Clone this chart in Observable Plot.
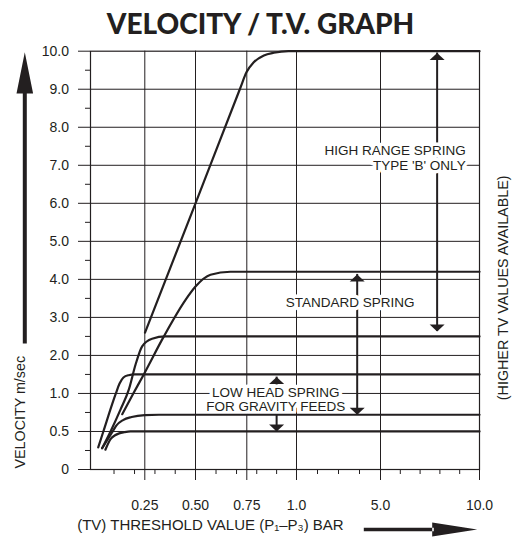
<!DOCTYPE html>
<html>
<head>
<meta charset="utf-8">
<script src="https://cdn.jsdelivr.net/npm/d3@7"></script>
<script src="https://cdn.jsdelivr.net/npm/@observablehq/plot@0.6"></script>
<style>
  html, body { margin: 0; padding: 0; background: #fff; overflow: hidden; }
  #title {
    width: 517px; height: 40px; box-sizing: border-box; padding-left: 4px;
    font: 900 28px Lato, "Open Sans", sans-serif; line-height: 46px;
    text-align: center; color: #231f20; white-space: nowrap;
  }
  #chart svg { display: block; }
</style>
</head>
<body>
<div id="title">VELOCITY / T.V. GRAPH</div>
<div id="chart"></div>
<script>
// ---------- data ----------
const xDomain = [0, 0.25, 0.5, 0.75, 1, 5, 10];
const xTickValues = [0.25, 0.5, 0.75, 1, 5, 10];
const xTickLabels = ["0.25", "0.50", "0.75", "1.0", "5.0", "10.0"];
const xMinorTicks = [0.1, 0.2, 0.3, 0.4, 0.6, 0.7, 0.8, 0.9, 2, 3, 4, 6, 7, 8, 9];
const xGrid = [0.25, 0.5, 0.75, 1, 5];

const yDomain = [0, 0.5, 1, 2, 3, 4, 5, 6, 7, 8, 9, 10];
const yTickLabels = ["0", "0.5", "1.0", "2.0", "3.0", "4.0", "5.0", "6.0", "7.0", "8.0", "9.0", "10.0"];
const yMinorTicks = [0.25, 0.75, 1.5, 2.5, 3.5, 4.5, 5.5, 6.5, 7.5, 8.5, 9.5];
const yGrid = [0.5, 1, 2, 3, 4, 5, 6, 7, 8, 9];

// spring curves: [threshold value, velocity]
const curveHighRange = [[0.251, 2.6], [0.5, 6.0], [0.716, 9.0], [0.749, 9.45], [0.785, 9.71], [0.836, 9.89], [0.886, 9.96], [0.96, 10], [10, 10]];
const curveStd42 = [[0.14, 0.727], [0.194, 1.0], [0.245, 1.5], [0.344, 2.5], [0.451, 3.46], [0.5, 3.81], [0.573, 4.12], [0.67, 4.2], [10, 4.2]];
const curveStd25 = [[0.042, 0.28], [0.083, 0.5], [0.132, 0.79], [0.172, 1.1], [0.205, 1.76], [0.237, 2.24], [0.286, 2.44], [0.352, 2.5], [10, 2.5]];
const curveStd15 = [[0.023, 0.29], [0.048, 0.5], [0.109, 1.0], [0.127, 1.26], [0.146, 1.42], [0.171, 1.48], [0.2, 1.5], [10, 1.5]];
const curveLow07 = [[0.042, 0.28], [0.091, 0.49], [0.112, 0.58], [0.144, 0.65], [0.186, 0.69], [0.25, 0.715], [0.32, 0.72], [10, 0.72]];
const curveLow05 = [[0.058, 0.26], [0.083, 0.40], [0.105, 0.45], [0.125, 0.475], [0.15, 0.49], [0.18, 0.5], [10, 0.5]];

// range arrows
const arrowNames = ["high", "standard", "low"];
const arrowX = [7.86, 3.89, 0.9];
const arrowTop = [9.95, 4.13, 1.43];
const arrowBottom = [2.63, 0.72, 0.5];

// annotation labels
const labelsRight = [
  {text: "HIGH RANGE SPRING\nTYPE 'B' ONLY", x: 9.3, y: 7.19}
];
const labelsCenter = [
  {text: "STANDARD SPRING", x: 3.55, y: 3.4},
  {text: "LOW HEAD SPRING\nFOR GRAVITY FEEDS", x: 0.896, y: 0.915}
];

const yTitle = "VELOCITY m/sec";
const xTitle = "(TV) THRESHOLD VALUE (P\u2081\u2013P\u2083) BAR";
const rightTitle = "(HIGHER TV VALUES AVAILABLE)";

// ---------- layout ----------
const W = 517, H = 500;
const mL = 90, mR = 38, mT = 10.7, mB = 71;
const xRange = [93, 144.3, 195, 246.3, 296, 380, 479];
const yRange = yDomain.map((_, i) => (H - mB) - i * ((H - mB) - mT) / (yDomain.length - 1));
const INK = "#231f20";
const FONT = "'Liberation Sans', Arial, Helvetica, sans-serif";

const series = [
  ["high", curveHighRange], ["std42", curveStd42], ["std25", curveStd25],
  ["std15", curveStd15], ["low07", curveLow07], ["low05", curveLow05]
];
const lineData = series.flatMap(([name, pts]) => pts.map(([x, y]) => ({series: name, x, y})));
const arrows = arrowNames.map((n, i) => ({name: n, x: arrowX[i], top: arrowTop[i], bottom: arrowBottom[i]}));

// filled arrowheads (tip at the anchor point)
const headUp = {draw(c) { c.moveTo(0, 0); c.lineTo(7.5, 7); c.lineTo(-7.5, 7); c.closePath(); }};
const headDown = {draw(c) { c.moveTo(0, 0); c.lineTo(7.5, -7); c.lineTo(-7.5, -7); c.closePath(); }};
// big axis arrows
const bigUpArrow = {draw(c) {
  c.rect(-2, -250, 4, 250);
  c.moveTo(0, -291.3); c.lineTo(8.3, -250); c.lineTo(-8.3, -250); c.closePath();
}};
const bigRightArrow = {draw(c) {
  c.rect(-113.4, -1.8, 70, 3.6);
  c.moveTo(0, 0); c.lineTo(-45, -7); c.lineTo(-45, 7); c.closePath();
}};

const halo = {stroke: "white", strokeWidth: 7, strokeLinejoin: "round", paintOrder: "stroke"};

const plot = Plot.plot({
  width: W, height: H,
  marginLeft: mL, marginRight: mR, marginTop: mT, marginBottom: mB,
  style: {fontFamily: FONT, fontSize: "14px", color: INK, background: "white", overflow: "visible"},
  x: {
    type: "linear", domain: xDomain, range: xRange,
    ticks: xTickValues, tickFormat: (d) => xTickLabels[xTickValues.indexOf(d)],
    tickSize: 11, tickPadding: 20, label: null
  },
  y: {
    type: "linear", domain: yDomain, range: yRange,
    ticks: yDomain, tickFormat: (d) => yTickLabels[yDomain.indexOf(d)],
    tickSize: 12, tickPadding: 9.5, label: null
  },
  marks: [
    // grid
    Plot.ruleY(yGrid, {y: (d) => d, stroke: INK, strokeWidth: 1}),
    Plot.ruleX(xGrid, {x: (d) => d, stroke: INK, strokeWidth: 1}),
    // minor ticks
    Plot.ruleY(yMinorTicks, {y: (d) => d, stroke: INK, strokeWidth: 1, insetLeft: -5, insetRight: W - mL - mR}),
    Plot.ruleX(xMinorTicks, {x: (d) => d, stroke: INK, strokeWidth: 1, insetTop: H - mT - mB, insetBottom: -5}),
    // range arrow shafts
    Plot.ruleX(arrows, {x: "x", y1: "top", y2: "bottom", stroke: INK, strokeWidth: 2}),
    // annotations with white knock-out
    Plot.text(labelsRight, {x: "x", y: "y", text: "text", textAnchor: "end", lineHeight: 1.11,
      fontSize: 13.5, fill: INK, ...halo}),
    Plot.text(labelsCenter, {x: "x", y: "y", text: "text", textAnchor: "middle", lineHeight: 1.0,
      fontSize: 13.5, fill: INK, ...halo}),
    // curves
    Plot.line(lineData, {x: "x", y: "y", z: "series", curve: "monotone-x", stroke: INK, strokeWidth: 2.2}),
    // frame
    Plot.frame({stroke: INK, strokeWidth: 1.2}),
    // arrowheads
    Plot.dot(arrows, {x: "x", y: "top", symbol: headUp, fill: INK, stroke: "none"}),
    Plot.dot(arrows, {x: "x", y: "bottom", symbol: headDown, fill: INK, stroke: "none"}),
    // axis titles and their arrows
    Plot.text([yTitle], {text: (d) => d, frameAnchor: "bottom-left", rotate: -90, textAnchor: "start",
      dx: -66, dy: -1, fontSize: 14.3, fill: INK}),
    Plot.dot([yTitle], {frameAnchor: "bottom-left", symbol: bigUpArrow, dx: -65.7, dy: -126, fill: INK, stroke: "none"}),
    Plot.text([xTitle], {text: (d) => d, frameAnchor: "bottom-left", textAnchor: "start",
      dx: -13.3, dy: 60, fontSize: 15, fill: INK}),
    Plot.dot([xTitle], {frameAnchor: "bottom-right", symbol: bigRightArrow, dx: -2.3, dy: 60, fill: INK, stroke: "none"}),
    Plot.text([rightTitle], {text: (d) => d, frameAnchor: "right", rotate: -90, textAnchor: "middle",
      dx: 24, dy: 27.5, fontSize: 14.3, fill: INK})
  ]
});
document.getElementById("chart").appendChild(plot);
</script>
</body>
</html>
